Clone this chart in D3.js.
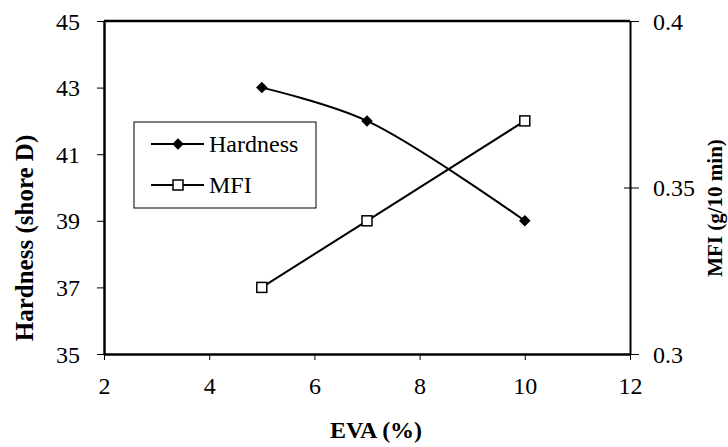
<!DOCTYPE html>
<html>
<head>
<meta charset="utf-8">
<style>
  body { margin: 0; background: #fff; }
  svg { display: block; }
  svg text { font-family: "Liberation Serif", "Times New Roman", Times, serif !important; fill: #000; }
</style>
</head>
<body>
<svg class="chart"></svg>
<script src="https://d3js.org/d3.v7.min.js"></script>
<script>
// data
eva      = [5, 7, 10]
hardness = [43, 42, 39]
mfi      = [0.32, 0.34, 0.37]
xTicks   = [2, 4, 6, 8, 10, 12]
yTicks   = [35, 37, 39, 41, 43, 45]
y2Ticks  = [0.3, 0.35, 0.4]

width  = 728
height = 447
margin = ({top: 21, right: 98, bottom: 93, left: 104})

x = d3.scaleLinear().domain([2, 12]).range([margin.left, width - margin.right])
y = d3.scaleLinear().domain([35, 45]).range([height - margin.bottom, margin.top])
y2 = d3.scaleLinear().domain([0.3, 0.4]).range([height - margin.bottom, margin.top])

const svg = d3.select("svg")
    .attr("width", width)
    .attr("height", height)
    .attr("viewBox", [0, 0, width, height]);

// top frame line
svg.append("line")
    .attr("x1", x(2)).attr("x2", x(12))
    .attr("y1", y(45)).attr("y2", y(45))
    .attr("stroke", "#000").attr("stroke-width", 2.5);

// x axis
svg.append("g")
    .attr("transform", `translate(0,${y(35)})`)
    .call(d3.axisBottom(x).tickValues(xTicks).tickSize(6).tickPadding(17).tickSizeOuter(0))
    .call(g => g.select(".domain").attr("stroke-width", 2.5))
    .call(g => g.selectAll(".tick text").attr("font-size", 24));

// left axis
svg.append("g")
    .attr("transform", `translate(${x(2)},0)`)
    .call(d3.axisLeft(y).tickValues(yTicks).tickSize(7).tickPadding(17).tickSizeOuter(0))
    .call(g => g.select(".domain").attr("stroke-width", 2.5))
    .call(g => g.selectAll(".tick text").attr("font-size", 24).attr("dy", "0.34em"));

// right axis (ticks cross the line)
svg.append("g")
    .attr("transform", `translate(${x(12)},0)`)
    .call(d3.axisRight(y2).tickValues(y2Ticks).tickFormat(d3.format("")).tickSize(9).tickPadding(14).tickSizeOuter(0))
    .call(g => g.select(".domain").attr("stroke-width", 2))
    .call(g => g.selectAll(".tick line").attr("x1", -6))
    .call(g => g.selectAll(".tick text").attr("font-size", 24).attr("dy", "0.34em"));

// axis titles
svg.append("text")
    .attr("x", 376).attr("y", 438)
    .attr("text-anchor", "middle")
    .attr("font-size", 24).attr("font-weight", "bold")
    .text("EVA (%)");

svg.append("text")
    .attr("transform", "translate(33,238) rotate(-90)")
    .attr("text-anchor", "middle")
    .attr("font-size", 25).attr("font-weight", "bold")
    .text("Hardness (shore D)");

svg.append("text")
    .attr("transform", "translate(722,208) rotate(-90)")
    .attr("text-anchor", "middle")
    .attr("font-size", 21).attr("font-weight", "bold")
    .text("MFI (g/10 min)");

// series
const hData = eva.map((d, i) => ({x: d, v: hardness[i]}));
const mData = eva.map((d, i) => ({x: d, v: mfi[i]}));

svg.append("path")
    .datum(hData)
    .attr("fill", "none").attr("stroke", "#000").attr("stroke-width", 2)
    .attr("d", d3.line().x(d => x(d.x)).y(d => y(d.v)).curve(d3.curveCatmullRom.alpha(0.5)));

svg.append("path")
    .datum(mData)
    .attr("fill", "none").attr("stroke", "#000").attr("stroke-width", 2)
    .attr("d", d3.line().x(d => x(d.x)).y(d => y2(d.v)));

const diamond = d3.symbol().type(d3.symbolSquare).size(66);

svg.append("g")
    .selectAll("path")
    .data(hData)
    .join("path")
      .attr("transform", d => `translate(${x(d.x)},${y(d.v)}) rotate(45)`)
      .attr("d", diamond)
      .attr("fill", "#000");

svg.append("g")
    .selectAll("rect")
    .data(mData)
    .join("rect")
      .attr("x", d => x(d.x) - 5)
      .attr("y", d => y2(d.v) - 5)
      .attr("width", 10).attr("height", 10)
      .attr("fill", "#fff").attr("stroke", "#000").attr("stroke-width", 1.5);

// legend
const lg = svg.append("g");
lg.append("rect")
    .attr("x", 134).attr("y", 122).attr("width", 182).attr("height", 86)
    .attr("fill", "#fff").attr("stroke", "#000").attr("stroke-width", 1);

lg.append("line").attr("x1", 151).attr("x2", 204).attr("y1", 144).attr("y2", 144)
    .attr("stroke", "#000").attr("stroke-width", 2);
lg.append("path").attr("transform", "translate(178,144) rotate(45)").attr("d", diamond).attr("fill", "#000");
lg.append("text").attr("x", 209).attr("y", 144).attr("dy", "0.34em").attr("font-size", 24).text("Hardness");

lg.append("line").attr("x1", 151).attr("x2", 204).attr("y1", 185).attr("y2", 185)
    .attr("stroke", "#000").attr("stroke-width", 2);
lg.append("rect").attr("x", 173).attr("y", 180).attr("width", 10).attr("height", 10)
    .attr("fill", "#fff").attr("stroke", "#000").attr("stroke-width", 1.5);
lg.append("text").attr("x", 209).attr("y", 185).attr("dy", "0.34em").attr("font-size", 24).text("MFI");
</script>
</body>
</html>
